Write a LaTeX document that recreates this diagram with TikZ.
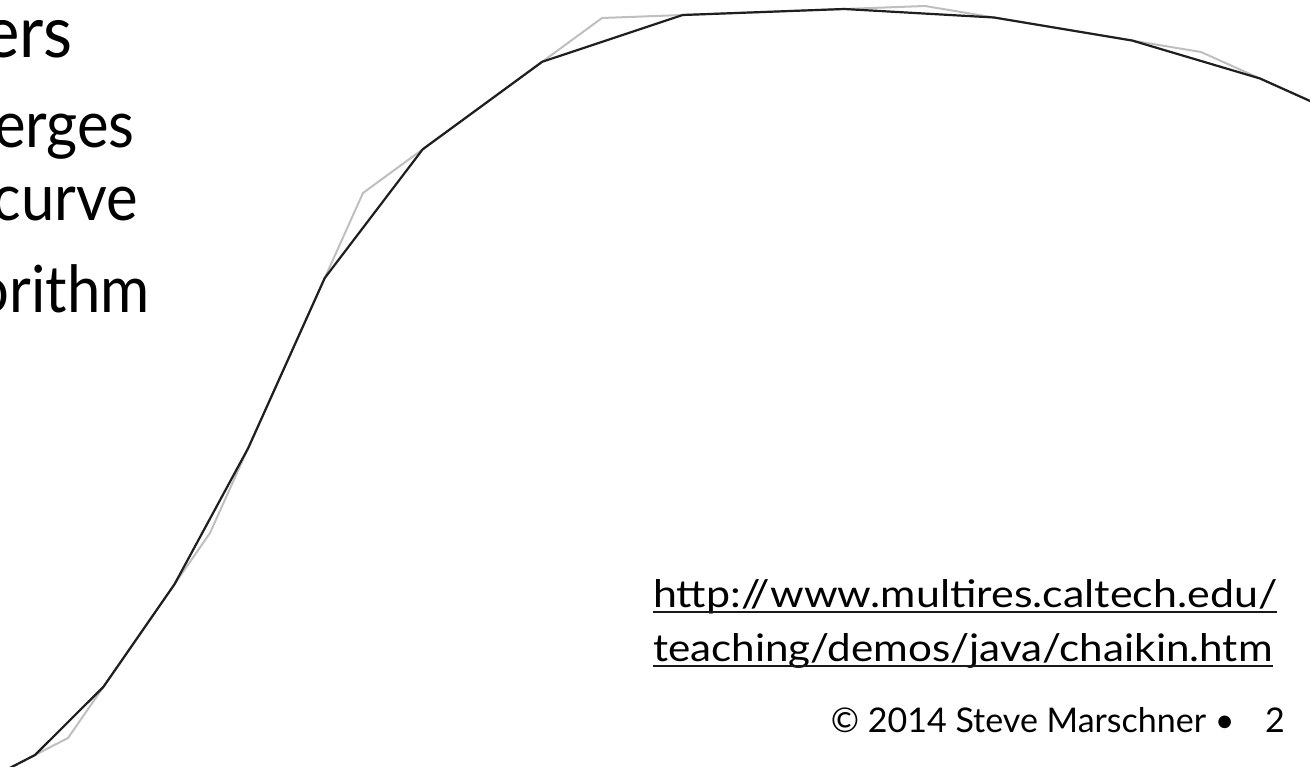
\documentclass[tikz,border=0pt]{standalone}
\usepackage{fontspec}
\usepackage{graphicx}
\setmainfont{Lato}
\begin{document}
\begin{tikzpicture}[x=1pt,y=-1pt,
  coarse/.style={draw=black!25,line width=2pt,line join=miter},
  fine/.style={draw=black!88,line width=2.2pt,line join=miter},
  txt/.style={inner sep=0pt,text=black},
  body/.style={txt,anchor=base east,font=\fontsize{65}{72}\selectfont},
  url/.style={txt,anchor=base west,font=\fontsize{38}{44}\selectfont},
  uline/.style={draw=black!90,line width=1.8pt}]
\useasboundingbox (0,0) rectangle (1310,767);
\begin{scope}
\clip (0,0) rectangle (1310,767);
% control polygon (gray)
\coordinate (g0) at (-64,806);
\coordinate (g1) at (68,738);
\coordinate (g2) at (210,533);
\coordinate (g3) at (363,193);
\coordinate (g4) at (602,18);
\coordinate (g5) at (925,6);
\coordinate (g6) at (1201,52);
\coordinate (g7) at (1437,158);
\draw[coarse] (g0) -- (g1) -- (g2) -- (g3) -- (g4) -- (g5) -- (g6) -- (g7);
% refined polygon (black, Chaikin corner cutting)
\coordinate (b0) at (-31,789);
\coordinate (b1) at (35,755);
\coordinate (b2) at (103.5,686.75);
\coordinate (b3) at (174.5,584.25);
\coordinate (b4) at (248.25,448);
\coordinate (b5) at (324.75,278);
\coordinate (b6) at (422.75,149.25);
\coordinate (b7) at (542.25,61.75);
\coordinate (b8) at (682.75,15);
\coordinate (b9) at (844.25,9);
\coordinate (b10) at (994,17.5);
\coordinate (b11) at (1132,40.5);
\coordinate (b12) at (1260,78.5);
\coordinate (b13) at (1378,131.5);
\draw[fine] (b0) -- (b1) -- (b2) -- (b3) -- (b4) -- (b5) -- (b6) -- (b7)
  -- (b8) -- (b9) -- (b10) -- (b11) -- (b12) -- (b13);
\end{scope}
% bullet text (cut at left edge)
\node[txt,anchor=base east,font=\fontsize{72}{80}\selectfont] (t1) at (73,58) {\scalebox{0.93}[1]{ers}};
\node[body] (t2) at (135,148) {\scalebox{0.92}[1]{erges}};
\node[body] (t3) at (138,221) {\scalebox{0.92}[1]{curve}};
\node[body] (t4) at (150,313) {\scalebox{0.92}[1]{orithm}};
% link
\node[url] (u1) at (653,607) {\scalebox{1.13}[1]{http://www.multires.caltech.edu/}};
\node[url] (u2) at (653,661) {\scalebox{1.11}[1]{teaching/demos/java/chaikin.htm}};
\draw[uline] ([yshift=-5pt]u1.base west) -- ([yshift=-5pt]u1.base east);
\draw[uline] ([yshift=-5pt]u2.base west) -- ([yshift=-5pt]u2.base east);
% footer
\node[txt,anchor=base east,font=\fontsize{34}{40}\selectfont] (ft) at (1285,732) {© 2014 Steve Marschner •\hspace{0.9em}2};
\end{tikzpicture}
\end{document}
